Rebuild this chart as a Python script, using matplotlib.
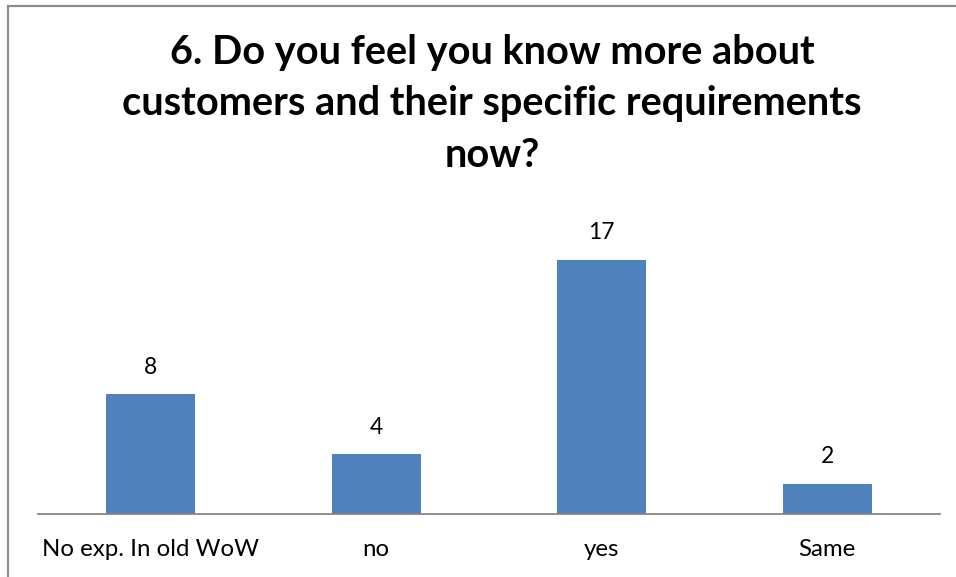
import matplotlib
matplotlib.use("Agg")
import matplotlib.pyplot as plt
from matplotlib.patches import Rectangle

categories = ["No exp. In old WoW", "no", "yes", "Same"]
counts = [8, 4, 17, 2]
title = "6. Do you feel you know more about\ncustomers and their specific requirements\nnow?"

BAR = "#4F81BD"
GRID = "#868686"
FONT = "Lato"

fig = plt.figure(figsize=(9.56, 5.77), dpi=100)
fig.patch.set_facecolor("white")

# outer chart frame (top and left edges visible)
fig.patches.append(Rectangle((8 / 956, -0.1), 1.2, 1 - 5.5 / 577 + 0.1,
                             transform=fig.transFigure, fill=False,
                             edgecolor="#8c8c8c", linewidth=1.6))

ax = fig.add_axes([38 / 956, 1 - 514 / 577, (940 - 38) / 956, (514 - 230) / 577])
x = range(len(categories))
bars = ax.bar(x, counts, width=0.395, color=BAR)
ax.set_xlim(-0.5, len(categories) - 0.5)
ax.set_ylim(0, 19)

for b, v in zip(bars, counts):
    ax.annotate(str(v), (b.get_x() + b.get_width() / 2, v),
                xytext=(0, 12), textcoords="offset points",
                ha="center", va="bottom", fontsize=16.5, family=FONT)

ax.set_xticks(list(x))
ax.set_xticklabels(categories, fontsize=17.3, family=FONT)
ax.tick_params(axis="x", length=0, pad=18)
ax.set_yticks([])
for s in ["top", "right", "left"]:
    ax.spines[s].set_visible(False)
ax.spines["bottom"].set_color(GRID)
ax.spines["bottom"].set_linewidth(1.3)

fig.text(492 / 956, 1 - 104 / 577, title, ha="center", va="center",
         fontsize=28.6, fontweight="bold", family=FONT, linespacing=1.47)

fig.savefig("out.png", dpi=100)
